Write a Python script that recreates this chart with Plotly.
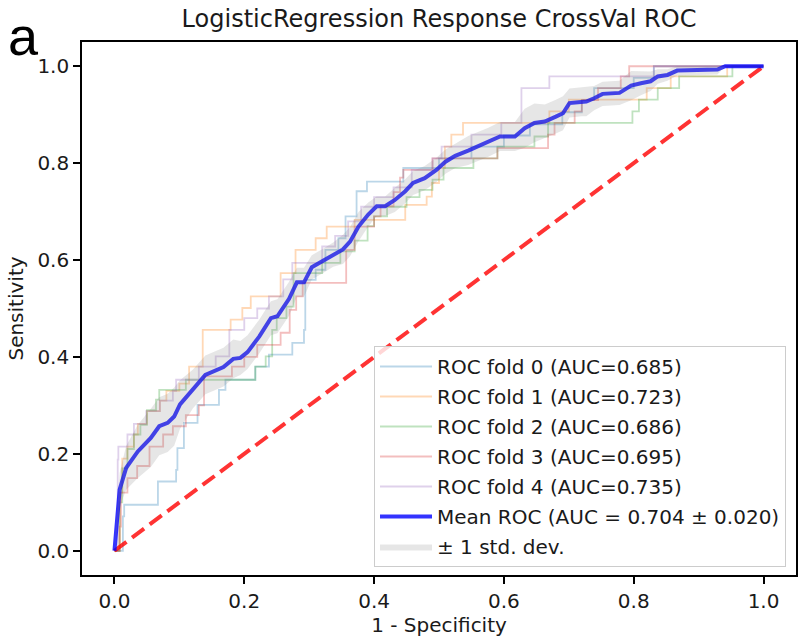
import plotly.graph_objects as go

# ---------------- data ----------------
fold0_fpr = [0, 0.013, 0.015, 0.067, 0.095, 0.097, 0.107, 0.128, 0.161, 0.171,
             0.217, 0.238, 0.274, 0.292, 0.294, 0.31, 0.325, 0.345, 0.356, 0.373,
             0.389, 0.445, 0.50, 0.55, 0.60, 0.64, 0.69, 0.72, 0.739, 0.80, 0.831, 1.0]
fold0_tpr = [0, 0.071, 0.095, 0.143, 0.167, 0.212, 0.264, 0.301, 0.332, 0.353,
             0.380, 0.405, 0.429, 0.456, 0.559, 0.580, 0.621, 0.645, 0.690, 0.742,
             0.762, 0.790, 0.810, 0.834, 0.857, 0.880, 0.905, 0.930, 0.955, 0.976, 1.0, 1.0]

fold1_fpr = [0, 0.008, 0.012, 0.02, 0.03, 0.036, 0.05, 0.07, 0.08, 0.10,
             0.115, 0.136, 0.179, 0.197, 0.21, 0.256, 0.279, 0.31, 0.327, 0.37,
             0.448, 0.481, 0.489, 0.50, 0.509, 0.519, 0.537, 0.67, 0.70, 0.82,
             0.857, 0.944, 1.0]
fold1_tpr = [0, 0.12, 0.19, 0.215, 0.24, 0.262, 0.288, 0.31, 0.33, 0.345,
             0.38, 0.456, 0.477, 0.501, 0.525, 0.573, 0.621, 0.645, 0.669, 0.683,
             0.714, 0.731, 0.759, 0.79, 0.834, 0.859, 0.883, 0.907, 0.931, 0.955,
             0.979, 1.0, 1.0]

fold2_fpr = [0, 0.008, 0.012, 0.02, 0.03, 0.04, 0.05, 0.064, 0.069, 0.11,
             0.217, 0.233, 0.243, 0.25, 0.265, 0.276, 0.32, 0.348, 0.37, 0.39,
             0.40, 0.42, 0.45, 0.47, 0.49, 0.507, 0.553, 0.59, 0.647, 0.668,
             0.798, 0.808, 0.837, 0.87, 0.952, 1.0]
fold2_tpr = [0, 0.10, 0.17, 0.21, 0.24, 0.26, 0.29, 0.312, 0.332, 0.353,
             0.380, 0.401, 0.456, 0.48, 0.504, 0.573, 0.594, 0.618, 0.64, 0.67,
             0.69, 0.71, 0.73, 0.745, 0.766, 0.79, 0.81, 0.834, 0.855, 0.883,
             0.907, 0.931, 0.955, 0.979, 1.0, 1.0]

fold3_fpr = [0, 0.008, 0.01, 0.02, 0.035, 0.054, 0.075, 0.09, 0.11, 0.13,
             0.138, 0.181, 0.20, 0.22, 0.256, 0.27, 0.28, 0.29, 0.357, 0.37,
             0.40, 0.41, 0.43, 0.44, 0.445, 0.49, 0.59, 0.668, 0.678, 0.709,
             0.72, 0.745, 0.78, 0.793, 1.0]
fold3_tpr = [0, 0.05, 0.12, 0.15, 0.175, 0.215, 0.24, 0.257, 0.28, 0.30,
             0.36, 0.38, 0.40, 0.425, 0.45, 0.497, 0.525, 0.553, 0.621, 0.669,
             0.69, 0.711, 0.74, 0.77, 0.786, 0.81, 0.831, 0.859, 0.883, 0.907,
             0.93, 0.955, 0.979, 1.0, 1.0]

fold4_fpr = [0, 0.005, 0.006, 0.02, 0.03, 0.049, 0.07, 0.09, 0.095, 0.13,
             0.156, 0.177, 0.20, 0.22, 0.238, 0.26, 0.274, 0.32, 0.34, 0.36,
             0.38, 0.40, 0.43, 0.458, 0.49, 0.504, 0.55, 0.596, 0.627, 0.67,
             0.831, 1.0]
fold4_tpr = [0, 0.188, 0.215, 0.24, 0.262, 0.288, 0.31, 0.33, 0.353, 0.38,
             0.401, 0.456, 0.48, 0.50, 0.525, 0.56, 0.594, 0.628, 0.65, 0.68,
             0.71, 0.73, 0.75, 0.786, 0.81, 0.834, 0.859, 0.883, 0.955, 0.979,
             1.0, 1.0]

fold_labels = ["ROC fold 0 (AUC=0.685)", "ROC fold 1 (AUC=0.723)",
               "ROC fold 2 (AUC=0.686)", "ROC fold 3 (AUC=0.695)",
               "ROC fold 4 (AUC=0.735)"]

mean_fpr = [0, 0.008, 0.018, 0.036, 0.056, 0.069, 0.082, 0.092, 0.101, 0.121,
            0.14, 0.168, 0.183, 0.194, 0.205, 0.223, 0.241, 0.251, 0.269, 0.281,
            0.292, 0.304, 0.322, 0.337, 0.352, 0.363, 0.376, 0.391, 0.404, 0.417,
            0.432, 0.448, 0.46, 0.478, 0.496, 0.51, 0.525, 0.545, 0.576, 0.594,
            0.617, 0.632, 0.647, 0.663, 0.68, 0.691, 0.701, 0.72, 0.727, 0.739,
            0.752, 0.778, 0.796, 0.811, 0.826, 0.837, 0.852, 0.867, 0.929, 0.941, 1.0]
mean_tpr = [0, 0.126, 0.171, 0.205, 0.233, 0.257, 0.264, 0.277, 0.302, 0.334,
            0.363, 0.379, 0.396, 0.398, 0.41, 0.442, 0.48, 0.484, 0.52, 0.554,
            0.554, 0.585, 0.599, 0.611, 0.622, 0.638, 0.669, 0.694, 0.711, 0.711,
            0.724, 0.742, 0.759, 0.769, 0.786, 0.803, 0.815, 0.826, 0.843, 0.855,
            0.855, 0.872, 0.883, 0.886, 0.896, 0.903, 0.924, 0.927, 0.927, 0.934,
            0.943, 0.945, 0.96, 0.965, 0.969, 0.979, 0.982, 0.991, 0.993, 1.0, 1.0]
std_tpr = [0, 0.035, 0.045, 0.055, 0.06, 0.06, 0.06, 0.06, 0.05, 0.04,
           0.04, 0.04, 0.04, 0.035, 0.035, 0.035, 0.035, 0.035, 0.035, 0.03,
           0.03, 0.025, 0.025, 0.025, 0.03, 0.03, 0.03, 0.025, 0.02, 0.02,
           0.025, 0.025, 0.025, 0.025, 0.025, 0.025, 0.025, 0.03, 0.03, 0.03,
           0.03, 0.04, 0.04, 0.035, 0.035, 0.035, 0.03, 0.03, 0.03, 0.025,
           0.025, 0.025, 0.03, 0.025, 0.02, 0.015, 0.012, 0.01, 0.01, 0, 0]

chance_x = [0, 1]
chance_y = [0, 1]

tick_vals = [0.0, 0.2, 0.4, 0.6, 0.8, 1.0]
tick_text = ["0.0", "0.2", "0.4", "0.6", "0.8", "1.0"]

# ---------------- figure ----------------
FONT = "DejaVu Sans"
TXT = "#1a1a1a"
fold_colors = ["rgba(31,119,180,0.3)", "rgba(255,127,14,0.3)",
               "rgba(44,160,44,0.3)", "rgba(214,39,40,0.3)",
               "rgba(148,103,189,0.3)"]

fig = go.Figure()
folds = [(fold0_fpr, fold0_tpr), (fold1_fpr, fold1_tpr), (fold2_fpr, fold2_tpr),
         (fold3_fpr, fold3_tpr), (fold4_fpr, fold4_tpr)]
for i, ((fx, fy), lab, col) in enumerate(zip(folds, fold_labels, fold_colors)):
    fig.add_trace(go.Scatter(x=fx, y=fy, mode="lines", name=lab,
                             legendgroup=f"g{i}",
                             line=dict(color=col, width=1.8, shape="hv")))

fig.add_trace(go.Scatter(x=chance_x, y=chance_y, mode="lines", showlegend=False,
                         legendgroup="chance",
                         line=dict(color="rgba(255,0,0,0.8)", width=4, dash="15px,7px")))

fig.add_trace(go.Scatter(x=mean_fpr, y=mean_tpr, mode="lines",
                         name="Mean ROC (AUC = 0.704 ± 0.020)", legendgroup="mean",
                         line=dict(color="rgba(0,0,255,0.8)", width=4)))

tpr_lower = [max(m - s, 0) for m, s in zip(mean_tpr, std_tpr)]
tpr_upper = [min(m + s, 1) for m, s in zip(mean_tpr, std_tpr)]
fig.add_trace(go.Scatter(x=mean_fpr, y=tpr_lower, mode="lines", showlegend=False,
                         legendgroup="std", line=dict(width=0, color="rgba(128,128,128,0)"),
                         hoverinfo="skip"))
fig.add_trace(go.Scatter(x=mean_fpr, y=tpr_upper, mode="lines", fill="tonexty",
                         fillcolor="rgba(128,128,128,0.2)", legendgroup="std",
                         line=dict(width=0, color="rgba(128,128,128,0)"),
                         name="± 1 std. dev."))

axis_common = dict(range=[-0.05, 1.05], tickvals=tick_vals, ticktext=tick_text,
                   ticks="outside", ticklen=7, tickwidth=1.6, tickcolor="black",
                   showline=True, linecolor="black", linewidth=1.6, mirror=True,
                   showgrid=False, zeroline=False,
                   tickfont=dict(family=FONT, size=20, color=TXT))

fig.update_layout(
    width=798, height=638,
    margin=dict(l=82, r=0, t=42, b=63),
    paper_bgcolor="white", plot_bgcolor="white",
    title=dict(text="LogisticRegression Response CrossVal ROC",
               font=dict(family=FONT, size=24, color=TXT),
               x=0.5, xref="paper", xanchor="center",
               y=1 - 19 / 638, yref="container", yanchor="middle"),
    xaxis=dict(axis_common, title=dict(text="1 - Specificity", standoff=6,
                                       font=dict(family=FONT, size=20, color=TXT))),
    yaxis=dict(axis_common, title=dict(text="Sensitivity", standoff=8,
                                       font=dict(family=FONT, size=20, color=TXT))),
    legend=dict(x=0.986, y=0.015, xanchor="right", yanchor="bottom",
                bgcolor="rgba(255,255,255,0.8)", bordercolor="#cccccc", borderwidth=1,
                font=dict(family=FONT, size=20, color=TXT),
                traceorder="grouped", tracegroupgap=1, itemwidth=52),
    showlegend=True,
)

fig.add_annotation(text="a", xref="paper", yref="paper",
                   x=(6 - 82) / 716, y=(575 - 36) / 533, height=40,
                   xanchor="left", yanchor="middle", showarrow=False,
                   font=dict(family="Liberation Sans", size=54, color="black"))

fig.write_html("out.html")
